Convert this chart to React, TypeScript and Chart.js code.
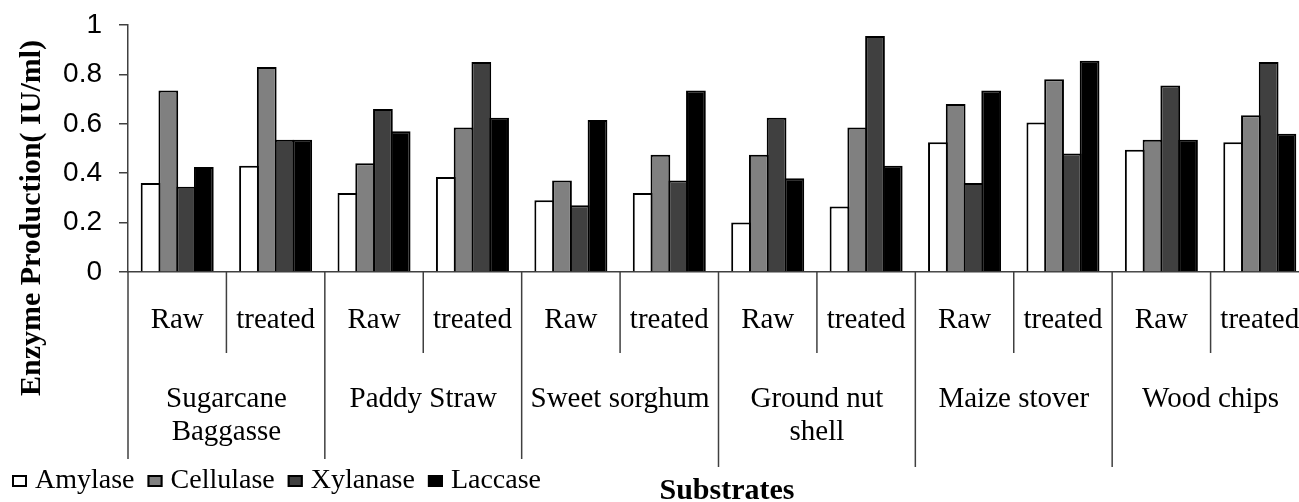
import React, { useEffect, useRef } from 'react';
import { Chart, registerables } from 'chart.js';

Chart.register(...registerables);

// ---- data ----
const treatments = ['Raw', 'treated', 'Raw', 'treated', 'Raw', 'treated', 'Raw', 'treated', 'Raw', 'treated', 'Raw', 'treated'];
const substrates = [
  ['Sugarcane', 'Baggasse'],
  ['Paddy Straw'],
  ['Sweet sorghum'],
  ['Ground nut', 'shell'],
  ['Maize stover'],
  ['Wood chips'],
];
const seriesNames = ['Amylase', 'Cellulase', 'Xylanase', 'Laccase'];
const amylase = [0.36, 0.43, 0.32, 0.385, 0.29, 0.32, 0.2, 0.265, 0.525, 0.605, 0.495, 0.525];
const cellulase = [0.735, 0.83, 0.44, 0.585, 0.37, 0.475, 0.475, 0.585, 0.68, 0.78, 0.535, 0.635];
const xylanase = [0.345, 0.535, 0.66, 0.85, 0.27, 0.37, 0.625, 0.955, 0.36, 0.48, 0.755, 0.85];
const laccase = [0.425, 0.535, 0.57, 0.625, 0.615, 0.735, 0.38, 0.43, 0.735, 0.855, 0.535, 0.56];
const seriesColors = ['#ffffff', '#808080', '#404040', '#000000'];
const yTitle = 'Enzyme Production( IU/ml)';
const xTitle = 'Substrates';

const SERIF = '"Liberation Serif", "Times New Roman", serif';
const SANS = '"Liberation Sans", Arial, sans-serif';
const LINE = '#404040';

const groupLabels = {
  id: 'groupLabels',
  afterDraw(chart: any) {
    const ctx = chart.ctx;
    const xs = chart.scales.x;
    const area = chart.chartArea;
    const n = treatments.length;
    const c0 = xs.getPixelForValue(0);
    const step = xs.getPixelForValue(1) - c0;
    const center = (i: number) => xs.getPixelForValue(i);
    const boundary = (i: number) => (i < n ? center(i) - step / 2 : center(n - 1) + step / 2);

    ctx.save();
    // separators
    ctx.strokeStyle = LINE;
    ctx.lineWidth = 1.5;
    for (let i = 0; i <= n; i++) {
      const b = boundary(i);
      const end = i % 2 === 0 ? (i < 6 ? 459 : 467) : 353;
      ctx.beginPath();
      ctx.moveTo(b, area.bottom);
      ctx.lineTo(b, end);
      ctx.stroke();
    }
    ctx.fillStyle = '#000';
    ctx.textAlign = 'center';
    ctx.textBaseline = 'alphabetic';
    ctx.font = `29px ${SERIF}`;
    for (let i = 0; i < n; i++) {
      ctx.fillText(treatments[i], center(i), 328);
    }
    substrates.forEach((lines, k) => {
      const cx = boundary(2 * k + 1);
      lines.forEach((t, j) => ctx.fillText(t, cx, 407 + j * 33));
    });

    // x title
    ctx.font = `bold 30px ${SERIF}`;
    ctx.fillText(xTitle, 727, 499);

    // y title
    ctx.save();
    ctx.translate(39.5, 218);
    ctx.rotate(-Math.PI / 2);
    ctx.fillText(yTitle, 0, 0);
    ctx.restore();

    // legend
    ctx.font = `28px ${SERIF}`;
    ctx.textAlign = 'left';
    let lx = 12;
    seriesNames.forEach((name, k) => {
      ctx.fillStyle = seriesColors[k];
      ctx.fillRect(lx, 475, 15, 12);
      ctx.strokeStyle = '#000';
      ctx.lineWidth = 2;
      ctx.strokeRect(lx + 1, 476, 13, 10);
      ctx.fillStyle = '#000';
      ctx.fillText(name, lx + 23, 488);
      lx += 23 + ctx.measureText(name).width + 13;
    });
    ctx.restore();
  },
};

export default function App() {
  const ref = useRef<HTMLCanvasElement>(null);
  useEffect(() => {
    document.body.style.margin = '0';
    const canvas = ref.current!;
    const values = [amylase, cellulase, xylanase, laccase];
    const chart = new Chart(canvas, {
      type: 'bar',
      data: {
        labels: treatments,
        datasets: seriesNames.map((name, k) => ({
          label: name,
          data: values[k],
          backgroundColor: seriesColors[k],
          borderColor: '#000',
          borderWidth: 2,
          borderSkipped: 'start',
          barPercentage: 1.113,
          categoryPercentage: 0.7215,
        })),
      },
      options: {
        responsive: false,
        animation: false,
        layout: { padding: { top: 25, right: 1, left: 0, bottom: 0 } },
        plugins: {
          legend: { display: false },
          tooltip: { enabled: false },
        },
        scales: {
          x: {
            type: 'category',
            offset: true,
            grid: { display: false },
            ticks: { display: false },
            border: { display: true, color: LINE, width: 1.5 },
            afterFit(s: any) {
              s.height = 230;
            },
          },
          y: {
            min: 0,
            max: 1,
            ticks: {
              stepSize: 0.2,
              font: { family: SANS, size: 28, lineHeight: 0.5 },
              color: '#000',
              padding: 17,
              callback: (v: any) => String(+Number(v).toFixed(2)),
            },
            grid: { drawOnChartArea: false, drawTicks: true, tickLength: 9, color: LINE, lineWidth: 1.5 },
            border: { display: true, color: LINE, width: 1.5 },
            afterFit(s: any) {
              s.width = 128;
            },
          },
        },
      },
      plugins: [groupLabels],
    });
    return () => chart.destroy();
  }, []);
  return (
    <div style={{ width: 1299, height: 502, overflow: 'hidden' }}>
      <canvas ref={ref} width={1310} height={502} style={{ display: 'block' }} />
    </div>
  );
}
